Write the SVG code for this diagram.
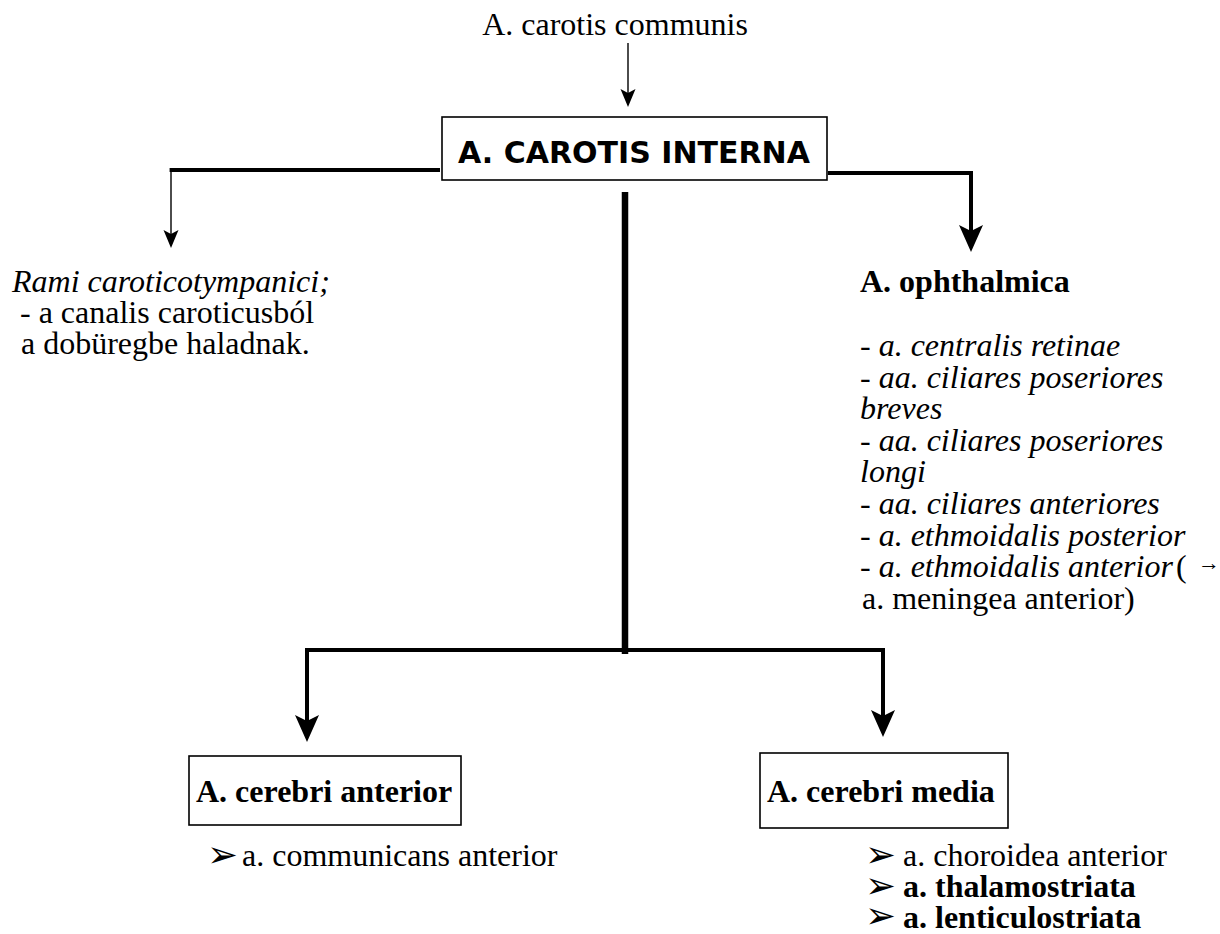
<svg xmlns="http://www.w3.org/2000/svg" width="1220" height="934" viewBox="0 0 1220 934">
<style>
text{font-family:"Liberation Serif","Times New Roman",serif;font-size:32px;fill:#000}
.b{font-weight:bold}
.i{font-style:italic}
.head{font-family:"DejaVu Sans","Verdana",sans-serif;font-weight:bold;font-size:30px}
.sym{font-family:"DejaVu Sans",sans-serif;font-size:37px}
.box{fill:#fff;stroke:#000;stroke-width:1.6}
.thick{fill:none;stroke:#000;stroke-width:4;stroke-linejoin:miter}
.thin{fill:none;stroke:#000;stroke-width:1.4}
.trunk{fill:none;stroke:#000;stroke-width:6.5}
</style>
<defs>
<marker id="big" markerUnits="userSpaceOnUse" viewBox="0 -13 27 26" markerWidth="27" markerHeight="26" refX="6" refY="0" orient="auto" overflow="visible">
<path d="M27,0 L0,-12 L6,0 L0,12 Z" fill="#000"/>
</marker>
<marker id="small" markerUnits="userSpaceOnUse" viewBox="0 -8 18 16" markerWidth="18" markerHeight="16" refX="4" refY="0" orient="auto" overflow="visible">
<path d="M18,0 L0,-7.5 L4,0 L0,7.5 Z" fill="#000"/>
</marker>
</defs>
<rect width="1220" height="934" fill="#fff"/>

<g id="connectors">
<line class="thin" x1="628" y1="43" x2="628" y2="93" marker-end="url(#small)"/>
<line class="thick" x1="440" y1="170" x2="169.6" y2="170"/>
<line class="thin" x1="171" y1="168" x2="171" y2="234" marker-end="url(#small)"/>
<path class="thick" d="M828,173 H971 V231" marker-end="url(#big)"/>
<line class="trunk" x1="625" y1="192" x2="625" y2="654"/>
<path class="thick" d="M625,650 H307 V721" marker-end="url(#big)"/>
<path class="thick" d="M625,650 H883 V716" marker-end="url(#big)"/>
</g>

<g id="carotis-communis">
<text x="615" y="35" text-anchor="middle">A. carotis communis</text>
</g>

<g id="carotis-interna">
<rect class="box" x="442" y="117" width="385" height="63"/>
<text class="head" x="634" y="163" text-anchor="middle">A. CAROTIS INTERNA</text>
</g>

<g id="rami-caroticotympanici">
<text class="i" x="12" y="292">Rami caroticotympanici;</text>
<text x="20" y="323">- a canalis caroticusból</text>
<text x="21" y="354">a dobüregbe haladnak.</text>
</g>

<g id="ophthalmica">
<text class="b" x="860" y="292">A. ophthalmica</text>
<text class="i" x="860" y="356">- a. centralis retinae</text>
<text class="i" x="860" y="388">- aa. ciliares poseriores</text>
<text class="i" x="860" y="419">breves</text>
<text class="i" x="860" y="451">- aa. ciliares poseriores</text>
<text class="i" x="860" y="482">longi</text>
<text class="i" x="860" y="514">- aa. ciliares anteriores</text>
<text class="i" x="860" y="546">- a. ethmoidalis posterior</text>
<text class="i" x="860" y="577">- a. ethmoidalis anterior</text>
<text x="1176" y="577">(</text>
<text x="1198" y="570" style="font-size:22px">→</text>
<text x="862" y="609">a. meningea anterior)</text>
</g>

<g id="cerebri-anterior">
<rect class="box" x="189" y="756" width="272" height="69"/>
<text class="b" x="196" y="802">A. cerebri anterior</text>
<text class="sym" x="207" y="867">➢</text>
<text x="242" y="866">a. communicans anterior</text>
</g>

<g id="cerebri-media">
<rect class="box" x="760" y="753" width="248" height="75"/>
<text class="b" x="767" y="802">A. cerebri media</text>
<text class="sym" x="865" y="867">➢</text>
<text x="903" y="866">a. choroidea anterior</text>
<text class="sym b" x="865" y="898">➢</text>
<text class="b" x="903" y="897">a. thalamostriata</text>
<text class="sym b" x="865" y="928">➢</text>
<text class="b" x="903" y="928">a. lenticulostriata</text>
</g>
</svg>
